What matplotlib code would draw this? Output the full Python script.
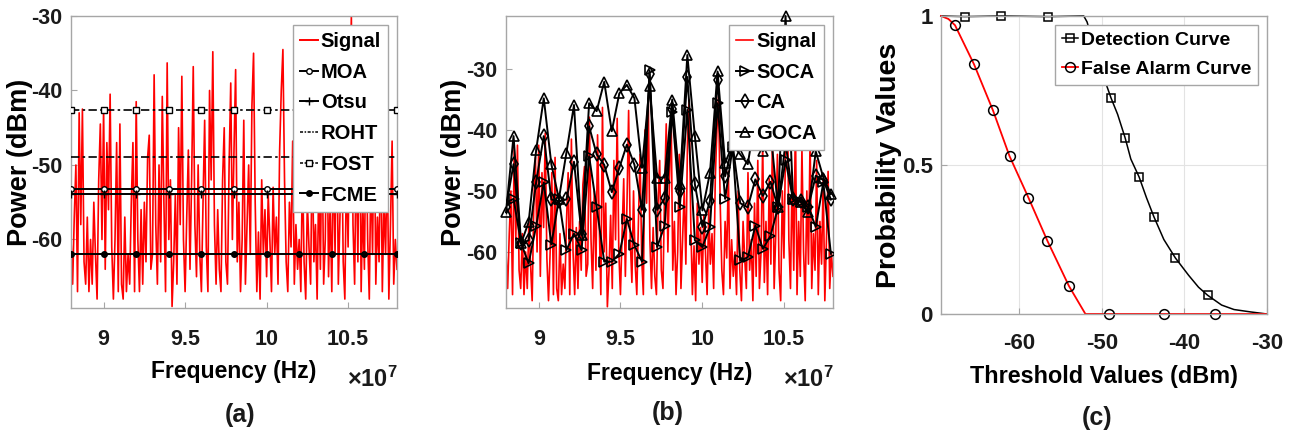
import numpy as np
import matplotlib
matplotlib.use("Agg")
import matplotlib.pyplot as plt
from matplotlib.lines import Line2D

# ---------------- data ----------------
# received signal power (dBm), evenly spaced from 8.80e7 to 10.80e7 Hz
signal = [
    -60, -66, -57, -50, -67, -43, -58, -42.5, -63, -66,
    -57, -67, -60, -66, -55, -62, -68, -52, -44.5, -60,
    -42.5, -64, -47, -56, -40.5, -61, -68, -60, -47, -67,
    -44.5, -66, -68, -57, -67, -62, -66, -55, -47, -67,
    -41.5, -60, -67, -56, -66, -55, -63, -49, -46, -64,
    -62, -37.9, -58, -66, -50, -63, -40.8, -55, -67, -36.3,
    -60, -52, -69, -63, -54, -66, -45, -58, -38.1, -60,
    -67, -57, -48, -64, -52, -36.8, -58, -65, -50, -62,
    -67, -55, -44, -61, -67, -40, -52, -34.8, -58, -66,
    -56, -64, -67, -52, -45, -63, -66, -50, -39, -60,
    -48, -37.2, -63, -55, -67, -60, -44, -66, -58, -50,
    -62, -42, -35, -55, -67, -59, -68, -52, -62, -56,
    -65, -54, -60, -67, -53, -62, -57, -66, -48, -40,
    -34.5, -52, -63, -67, -55, -61, -46.8, -66, -58, -64,
    -60, -67, -50, -63, -68, -55, -61, -66, -47, -63,
    -58, -68, -52, -64, -45, -66, -60, -42, -65, -55,
    -67, -48, -62, -40, -66, -57, -44, -63, -68, -50,
    -61, -42, -30, -58, -66, -47, -63, -38, -67, -55,
    -64, -43, -60, -68, -50, -62, -41, -66, -57, -63,
    -45, -67, -55, -62, -48, -68, -58, -46.8, -66, -60,
    -64,
]
freq_start, freq_stop = 8.80, 10.80          # x 10^7 Hz

# panel (a) fixed thresholds (dBm)
thr_names = ["MOA", "Otsu", "ROHT", "FOST", "FCME"]
thr_moa = -53.2
thr_otsu = -53.9
thr_roht = -48.9
thr_fost = -42.6
thr_fcme = -61.9
thr_marker_x = [8.8, 9.0, 9.2, 9.4, 9.6, 9.8, 10.0, 10.2, 10.4, 10.6, 10.8]

# panel (b) CFAR thresholds (dBm), 44 cells from 8.80e7 to 10.787e7 Hz
cfar_start, cfar_stop = 8.80, 10.787
soca = [-51.9, -51.3, -58.6, -61.9, -55.7, -48.6, -58.8, -51.3, -59.7, -57.0,
        -59.7, -44.3, -52.7, -61.6, -61.6, -60.3, -54.6, -58.9, -61.6, -30.2,
        -59.2, -55.7, -37.0, -52.7, -36.7, -58.1, -59.2, -55.9, -35.6, -51.3,
        -42.8, -61.4, -60.9, -55.7, -59.5, -57.4, -52.7, -45.0, -51.4, -51.8,
        -52.7, -55.9, -48.6, -60.3]
ca = [-52.7, -45.6, -58.6, -58.1, -48.5, -41.0, -51.4, -51.7, -51.4, -45.2,
      -57.0, -39.4, -44.0, -45.7, -50.2, -46.2, -42.4, -45.7, -53.1, -30.8,
      -53.1, -51.2, -36.5, -50.0, -31.3, -48.9, -55.9, -51.6, -31.8, -47.6,
      -42.4, -52.0, -52.7, -48.1, -50.8, -48.5, -52.7, -42.0, -51.4, -51.6,
      -52.7, -47.5, -48.2, -51.4]
goca = [-53.5, -41.0, -58.6, -55.1, -43.2, -34.8, -45.6, -51.3, -43.7, -35.9,
        -57.3, -35.6, -36.9, -32.1, -40.2, -34.0, -32.6, -34.8, -46.2, -32.8,
        -47.8, -47.8, -35.0, -48.9, -27.7, -41.0, -53.2, -47.0, -30.4, -45.4,
        -42.4, -44.0, -45.6, -38.0, -43.5, -40.0, -52.7, -21.3, -51.4, -51.8,
        -53.5, -43.5, -47.8, -50.5]

# panel (c) curves
det_thr = [-69.5, -66.6, -62.2, -56.5, -52.2, -51.8, -51.3, -50.5, -49.6, -48.9,
           -48.1, -47.2, -46.5, -45.5, -44.6, -43.7, -42.5, -41.1, -39.5, -38.3,
           -37.2, -35.5, -34.0, -32.0, -30.0]
det_prob = [1.0, 0.998, 1.0, 0.998, 1.0, 0.98, 0.93, 0.85, 0.78, 0.725,
            0.67, 0.592, 0.52, 0.46, 0.39, 0.326, 0.25, 0.188, 0.13, 0.09,
            0.063, 0.03, 0.015, 0.007, 0.0]
det_marks = [1, 2, 3, 9, 11, 13, 15, 17, 20]
fa_thr = [-69.5, -68.6, -67.8, -65.5, -63.2, -61.2, -58.9, -56.6, -54.0, -52.0,
          -49.2, -42.5, -36.3, -30.0]
fa_prob = [1.0, 0.99, 0.969, 0.838, 0.683, 0.53, 0.39, 0.245, 0.094, 0.0,
           0.0, 0.0, 0.0, 0.0]
fa_marks = [2, 3, 4, 5, 6, 7, 8, 10, 11, 12]

# ---------------- style ----------------
fam = "Liberation Sans"
plt.rcParams["font.family"] = [fam, "DejaVu Sans"]
plt.rcParams["font.weight"] = "bold"
plt.rcParams["axes.labelweight"] = "bold"
plt.rcParams["axes.unicode_minus"] = False
plt.rcParams["mathtext.fontset"] = "custom"
plt.rcParams["mathtext.rm"] = fam + ":bold"
plt.rcParams["mathtext.it"] = fam + ":bold"

spine_c = "#a6a6a6"
txt_c = "#1a1a1a"

fig = plt.figure(figsize=(12.93, 4.32), dpi=100)
W, H = 1293, 432


def ax_at(l, t, r, b):
    return fig.add_axes([l / W, 1 - b / H, (r - l) / W, (b - t) / H])


def style(ax, tick_fs, xpad):
    for s in ax.spines.values():
        s.set_color(spine_c)
        s.set_linewidth(1.0)
    ax.tick_params(direction="in", length=4, width=0.8, color=spine_c,
                   labelsize=tick_fs, labelcolor=txt_c)
    ax.tick_params(axis="x", pad=xpad)
    ax.tick_params(axis="y", pad=6)
    for lab in ax.get_xticklabels() + ax.get_yticklabels():
        lab.set_fontweight("bold")


leg_kw = dict(loc="upper right", handlelength=0.85, handletextpad=0.15,
              labelspacing=0.58, borderaxespad=0.45, borderpad=0.35,
              fancybox=False, framealpha=1, edgecolor=spine_c, numpoints=1)

# ----- (a) -----
axa = ax_at(71, 16, 397, 308)
fx = np.linspace(freq_start, freq_stop, len(signal))
axa.plot(fx, signal, color="red", lw=1.2, zorder=2)
xs = [freq_start, freq_stop]
axa.plot(xs, [thr_moa] * 2, color="k", lw=1.4, zorder=3)
axa.plot(thr_marker_x, [thr_moa] * len(thr_marker_x), ls="none", marker="o", ms=4,
         mfc="white", mec="k", mew=1.0, zorder=4)
axa.plot(xs, [thr_otsu] * 2, color="k", lw=1.4, zorder=3)
axa.plot(thr_marker_x, [thr_otsu] * len(thr_marker_x), ls="none", marker="+", ms=6,
         mec="k", mew=1.0, zorder=4)
axa.plot(xs, [thr_roht] * 2, color="k", lw=1.2, dashes=(5, 2, 1.5, 2), zorder=3)
axa.plot(xs, [thr_fost] * 2, color="k", lw=1.2, dashes=(5, 2, 1.5, 2), zorder=3)
axa.plot(thr_marker_x, [thr_fost] * len(thr_marker_x), ls="none", marker="s", ms=4,
         mfc="white", mec="k", mew=1.0, zorder=4)
axa.plot(xs, [thr_fcme] * 2, color="k", lw=1.4, zorder=3)
axa.plot(thr_marker_x, [thr_fcme] * len(thr_marker_x), ls="none", marker="o", ms=4,
         mfc="k", mec="k", zorder=4)
ha = [Line2D([], [], color="red", lw=1.4),
      Line2D([], [], color="k", lw=1.4, marker="o", ms=4, mfc="white"),
      Line2D([], [], color="k", lw=1.4, marker="+", ms=6),
      Line2D([], [], color="k", lw=1.1, dashes=(2, 1, 1, 1)),
      Line2D([], [], color="k", lw=1.1, dashes=(2, 1, 1, 1), marker="s", ms=4, mfc="white"),
      Line2D([], [], color="k", lw=1.4, marker="o", ms=4, mfc="k")]
axa.legend(ha, ["Signal"] + thr_names, fontsize=14.5, **leg_kw)
axa.set_xlim(freq_start, freq_stop)
axa.set_ylim(-69.2, -30)
axa.set_xticks([9, 9.5, 10, 10.5])
axa.set_xticklabels(["9", "9.5", "10", "10.5"])
axa.set_yticks([-60, -50, -40, -30])
style(axa, 15.5, 15)
axa.set_ylabel("Power (dBm)", fontsize=19.5)
axa.set_xlabel("Frequency (Hz)", fontsize=16.5)
axa.yaxis.set_label_coords(-0.118, 0.5)
axa.xaxis.set_label_coords(0.5, -0.178)

# ----- (b) -----
axb = ax_at(506, 16, 833, 308)
axb.plot(fx, signal, color="red", lw=1.2, label="Signal", zorder=2)
cx = np.linspace(cfar_start, cfar_stop, len(soca))
mk = dict(color="k", lw=1.4, ms=7.5, mfc="none", mec="k", mew=1.2)
axb.plot(cx, soca, marker=">", label="SOCA", zorder=3, **mk)
axb.plot(cx, ca, marker="d", label="CA", zorder=3, **mk)
axb.plot(cx, goca, marker="^", label="GOCA", zorder=3, clip_on=False, **mk)
axb.legend(fontsize=14.5, **leg_kw)
axb.set_xlim(freq_start, freq_stop)
axb.set_ylim(-69.2, -21.3)
axb.set_xticks([9, 9.5, 10, 10.5])
axb.set_xticklabels(["9", "9.5", "10", "10.5"])
axb.set_yticks([-60, -50, -40, -30])
style(axb, 15.5, 15)
axb.set_ylabel("Power (dBm)", fontsize=19.5)
axb.set_xlabel("Frequency (Hz)", fontsize=16.5)
axb.yaxis.set_label_coords(-0.12, 0.5)
axb.xaxis.set_label_coords(0.5, -0.185)

for cxp in (397, 833):
    fig.text((cxp + 1) / W, 1 - 379 / H, r"$\times$10$^{7}$", ha="right", va="center",
             fontsize=17, color=txt_c)

# ----- (c) -----
axc = ax_at(941, 16, 1267, 314)
axc.grid(True, color="#e3e3e3", lw=0.8)
axc.set_axisbelow(True)
axc.plot(det_thr, det_prob, color="k", lw=1.1, marker="s", ms=6, mfc="none",
         mec="k", mew=1.1, markevery=det_marks, label="Detection Curve", clip_on=False)
axc.plot(fa_thr, fa_prob, color="red", lw=1.3, marker="o", ms=7, mfc="none",
         mec="k", mew=1.1, markevery=fa_marks, label="False Alarm Curve", clip_on=False)
axc.legend(fontsize=14, **leg_kw)
axc.set_xlim(-69.5, -30)
axc.set_ylim(0, 1)
axc.set_xticks([-60, -50, -40, -30])
axc.set_yticks([0, 0.5, 1])
axc.set_yticklabels(["0", "0.5", "1"])
style(axc, 16, 14)
axc.set_ylabel("Probability Values", fontsize=20.5)
axc.set_xlabel("Threshold Values (dBm)", fontsize=16.8)
axc.yaxis.set_label_coords(-0.120, 0.5)
axc.xaxis.set_label_coords(0.5, -0.171)

# panel captions
for cxp, cy, t in ((240, 415, "(a)"), (668, 413, "(b)"), (1097, 418, "(c)")):
    fig.text(cxp / W, 1 - cy / H, t, ha="center", va="center", fontsize=18,
             fontweight="bold", color=txt_c)

fig.savefig("out.png", dpi=100)
